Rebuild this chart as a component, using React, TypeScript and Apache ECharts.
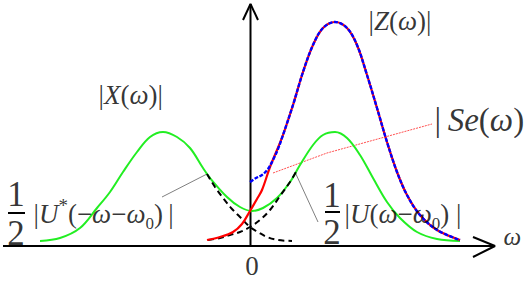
import React, { useEffect, useRef } from "react";
import * as echarts from "echarts";

// ω along the horizontal axis (ω0 ≈ 8.5), magnitudes on the vertical axis
const X_MAG: [number, number][] = [
  [-21.0, 0.5], [-19.0, 0.8], [-17.0, 1.8], [-15.3, 3.8], [-14.0, 5.4], [-12.7, 7.4],
  [-11.3, 9.4], [-10.0, 10.9], [-8.7, 11.4], [-7.3, 10.9], [-6.0, 9.8], [-4.7, 7.8],
  [-4.0, 6.8], [-2.3, 4.9], [-1.0, 3.9], [0.2, 3.5], [1.3, 3.8], [2.7, 4.8], [4.0, 6.4],
  [5.0, 8.1], [6.3, 10.1], [7.3, 11.1], [8.5, 11.4], [9.7, 10.8], [11.0, 9.1],
  [12.3, 6.8], [13.7, 4.4], [15.0, 2.8], [16.7, 1.4], [18.7, 0.7], [21.0, 0.5],
];

const Z_MAG: [number, number][] = [
  [-4.3, 0.6], [-3.0, 0.9], [-1.7, 1.4], [-0.8, 2.2], [0, 3.5], [0.7, 4.7], [1.2, 5.6],
  [2.0, 7.9], [2.7, 9.6], [3.3, 11.1], [4.3, 14.1], [5.3, 17.4], [6.3, 20.1], [7.3, 21.8],
  [8.5, 22.4], [9.7, 21.8], [10.7, 20.1], [11.7, 17.1], [12.7, 13.8], [13.7, 10.4],
  [14.7, 7.4], [15.7, 5.1], [17.0, 3.1], [18.7, 1.6], [21.0, 0.6],
];

const SE_MAG: [number, number][] = [
  [0, 6.4], [0.6, 6.8], [1.2, 7.1], [1.8, 7.7], [2.3, 8.6], [2.8, 9.7], [3.3, 11.1],
  [4.3, 14.1], [5.3, 17.4], [6.3, 20.1], [7.3, 21.8], [8.5, 22.4], [9.7, 21.8],
  [10.7, 20.1], [11.7, 17.1], [12.7, 13.8], [13.7, 10.4], [14.7, 7.4], [15.7, 5.1],
  [17.0, 3.1], [18.7, 1.6], [21.0, 0.6],
];

const U_STAR_TAIL: [number, number][] = [
  [-4.3, 7.2], [-3.5, 5.9], [-2.7, 4.8], [-1.8, 3.7], [-1.0, 2.9], [0, 1.9],
  [0.8, 1.4], [1.7, 0.9], [2.8, 0.6], [4.2, 0.5],
];

const U_TAIL: [number, number][] = [
  [-4.2, 0.6], [-3.0, 0.8], [-2.0, 1.1], [-1.0, 1.4], [0, 1.9], [1.0, 2.6],
  [2.0, 3.6], [3.0, 5.0], [4.0, 6.4], [4.6, 7.4],
];

const LEADER_U_STAR: [number, number][] = [[-8.8, 4.9], [-4.3, 7.2]];
const LEADER_U: [number, number][] = [[4.5, 7.4], [6.8, 2.4]];
const LEADER_SE: [number, number][] = [[2.3, 7.3], [7.7, 9.3], [18.2, 12.2]];

const H_AXIS: [number, number][] = [[-24.7, 0], [24.5, 0]];
const H_ARROW: [number, number][] = [[22.3, 0.9], [24.5, 0], [22.3, -1.1]];
const V_AXIS: [number, number][] = [[0.05, 0], [0.05, 24.2]];
const V_ARROW: [number, number][] = [[-0.7, 22.6], [0.05, 24.2], [0.8, 22.6]];
const FRACTION_BAR_L: [number, number][] = [[-24.2, 3.3], [-22.5, 3.3]];
const FRACTION_BAR_R: [number, number][] = [[7.5, 3.4], [9.0, 3.4]];

// label texts (rich-text markup) and where they are anchored
const TX = "\u2009";
const LABEL_TEXTS = [
  `{n||}{i|X}{n|(}{i|ω}{n|)|}`,
  `{n||}{i|Z}{n|(}{i|ω}{n|)|}`,
  `{b||${TX}}{bi|Se}{b|(}{bi|ω}{b|)}`,
  `{n||}{i|U}{sup|*}{n|(−}{i|ω}{n|−}{i|ω}{sub|0}{n|)${TX}|}`,
  `{n||}{i|U}{n|(}{i|ω}{n|−}{i|ω}{sub|0}{n|) |}`,
  "{f|1}", "{f|2}", "{f|1}", "{f|2}",
  "{z|0}", "{zi|ω}",
];
const LABEL_ANCHORS: [number, number][] = [
  [-15.2, 15.1], [11.8, 22.5], [18.4, 12.6], [-21.7, 3.2], [9.4, 3.2],
  [-23.4, 5.2], [-23.4, 1.3], [8.2, 5.1], [8.2, 1.4],
  [0.2, -2.0], [25.3, 1.0],
];
const LABEL_CENTERED = [false, false, false, false, false, true, true, true, true, true, false];

const SERIF = "Liberation Serif";

function line(data: [number, number][], color: string, width: number, type: any = "solid", smooth: number | boolean = 0.35) {
  return {
    type: "line",
    data,
    symbol: "none",
    smooth,
    silent: true,
    lineStyle: { color, width, type },
  };
}

function rs(size: number, italic = false, extra: any = {}) {
  return {
    fontFamily: SERIF,
    fontSize: size,
    fontStyle: italic ? "italic" : "normal",
    fontWeight: "normal",
    color: "#000",
    ...extra,
  };
}

const RICH = {
  n: rs(27, false, { lineHeight: 36 }),
  i: rs(27, true, { lineHeight: 36 }),
  b: rs(33),
  bi: rs(33, true),
  sup: rs(19, false, { verticalAlign: "top" }),
  sub: rs(17, false, { verticalAlign: "bottom" }),
  f: rs(35),
  z: rs(27),
  zi: rs(25, true),
};

export default function App() {
  const ref = useRef<HTMLDivElement>(null);
  useEffect(() => {
    if (!ref.current) return;
    const chart = echarts.init(ref.current, undefined, { renderer: "svg" });
    const labelData = LABEL_TEXTS.map((t, k) => ({
      value: LABEL_ANCHORS[k],
      label: {
        show: true,
        formatter: t,
        position: LABEL_CENTERED[k] ? "inside" : "right",
        distance: 0,
        align: LABEL_CENTERED[k] ? "center" : "left",
        verticalAlign: "middle",
        fontFamily: SERIF,
        color: "#000",
        rich: RICH,
      },
    }));
    chart.setOption({
      animation: false,
      backgroundColor: "#fff",
      textStyle: { fontFamily: SERIF },
      grid: { left: 0, right: 0, top: 0, bottom: 0, containLabel: false },
      xAxis: { type: "value", min: -25, max: 27.7, show: false },
      yAxis: { type: "value", min: -3.9, max: 24.6, show: false },
      series: [
        line(H_AXIS, "#000", 2, "solid", false),
        line(H_ARROW, "#000", 2, "solid", false),
        line(V_AXIS, "#000", 2, "solid", false),
        line(V_ARROW, "#000", 2, "solid", false),
        line(FRACTION_BAR_L, "#000", 2, "solid", false),
        line(FRACTION_BAR_R, "#000", 2, "solid", false),
        line(LEADER_U_STAR, "#808080", 1, "solid", false),
        line(LEADER_U, "#808080", 1, "solid", false),
        line(LEADER_SE, "#ff5050", 1, [2, 1], false),
        line(X_MAG, "#22ee22", 2),
        line(U_STAR_TAIL, "#000", 2, [6, 4]),
        line(U_TAIL, "#000", 2, [6, 4]),
        line(Z_MAG, "#ff0000", 2.2),
        line(SE_MAG, "#0000ff", 2.4, [4, 1.5]),
        {
          type: "scatter",
          silent: true,
          symbol: "circle",
          symbolSize: 1,
          itemStyle: { color: "rgba(0,0,0,0)" },
          data: labelData,
          z: 10,
        },
      ],
    });
    return () => chart.dispose();
  }, []);
  return (
    <div
      ref={ref}
      style={{ position: "fixed", left: 0, top: 0, width: 527, height: 285, background: "#fff" }}
    />
  );
}
